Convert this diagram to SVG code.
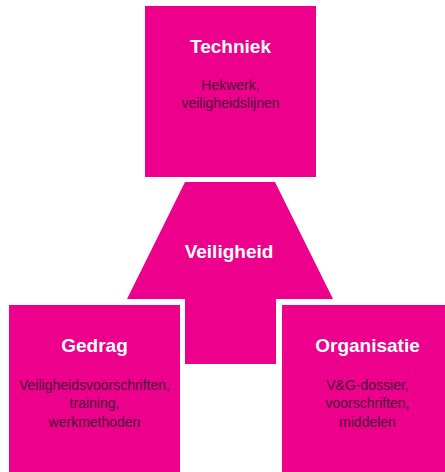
<svg xmlns="http://www.w3.org/2000/svg" width="445" height="472" viewBox="0 0 445 472">
<style>
.box{fill:#EC008C}
.title{font-family:"Liberation Sans",Arial,sans-serif;font-weight:bold;font-size:19px;fill:#ffffff;text-anchor:middle}
.sub{font-family:"Liberation Sans",Arial,sans-serif;font-size:14px;fill:#4a1438;text-anchor:middle}
</style>
<rect width="445" height="472" fill="#ffffff"/>
<g id="connectors"></g>
<g id="veiligheid">
<path class="box" d="M185,182 L275,182 L333,299 L276,299 L276,364 L185,364 L185,299 L127,299 Z"/>
<text class="title" x="229" y="258">Veiligheid</text>
</g>
<g id="techniek">
<rect class="box" x="145" y="6" width="171" height="171"/>
<text class="title" x="230.5" y="53">Techniek</text>
<text class="sub" x="230.5" y="90">Hekwerk,</text>
<text class="sub" x="230.5" y="108">veiligheidslijnen</text>
</g>
<g id="gedrag">
<rect class="box" x="9" y="305" width="171" height="167"/>
<text class="title" x="94.5" y="352">Gedrag</text>
<text class="sub" x="94.5" y="390">Veiligheidsvoorschriften,</text>
<text class="sub" x="94.5" y="408">training,</text>
<text class="sub" x="94.5" y="427">werkmethoden</text>
</g>
<g id="organisatie">
<rect class="box" x="282" y="305" width="171" height="167"/>
<text class="title" x="367.5" y="352">Organisatie</text>
<text class="sub" x="367.5" y="390">V&amp;G-dossier,</text>
<text class="sub" x="367.5" y="408">voorschriften,</text>
<text class="sub" x="367.5" y="427">middelen</text>
</g>
</svg>
